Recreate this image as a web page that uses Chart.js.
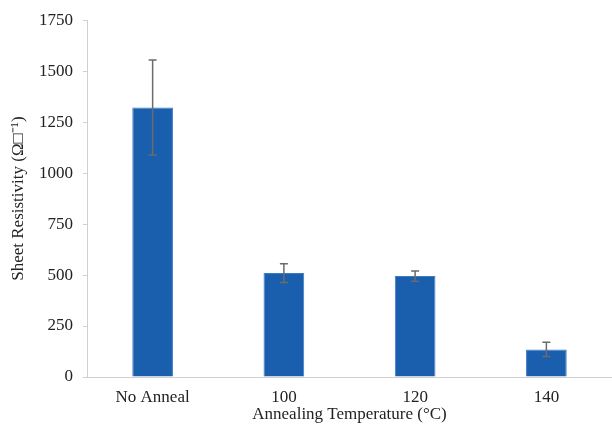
<!DOCTYPE html>
<html>
<head>
<meta charset="utf-8">
<script src="https://cdn.jsdelivr.net/npm/chart.js@4/dist/chart.umd.min.js"></script>
<style>
  html, body { margin: 0; padding: 0; background: #fff; }
  #wrap { width: 612px; height: 425px; }
</style>
</head>
<body>
<div id="wrap"><canvas id="c" width="612" height="425"></canvas></div>
<script>
// Sheet resistivity vs. annealing temperature
const categories = ['No Anneal', '100', '120', '140'];
const resistivity = [1322, 510, 495, 135];
const errorUp = [233, 46, 25, 35];
const errorDown = [233, 46, 25, 35];
const yTicks = [0, 250, 500, 750, 1000, 1250, 1500, 1750];

// Draws vertical error bars with caps on top of each bar
const errorBars = {
  id: 'errorBars',
  afterDatasetsDraw(chart) {
    const ctx = chart.ctx;
    const meta = chart.getDatasetMeta(0);
    const y = chart.scales.y;
    ctx.save();
    ctx.strokeStyle = '#6b6b6b';
    ctx.lineWidth = 1.5;
    meta.data.forEach((bar, i) => {
      const v = resistivity[i];
      const top = y.getPixelForValue(v + errorUp[i]);
      const bot = y.getPixelForValue(v - errorDown[i]);
      const x = bar.x;
      const cap = 4;
      ctx.beginPath();
      ctx.moveTo(x, top); ctx.lineTo(x, bot);
      ctx.moveTo(x - cap, top); ctx.lineTo(x + cap, top);
      ctx.moveTo(x - cap, bot); ctx.lineTo(x + cap, bot);
      ctx.stroke();
    });
    ctx.restore();
  }
};

const font = { family: '"Liberation Serif", "Times New Roman", serif', size: 17 };

new Chart(document.getElementById('c'), {
  type: 'bar',
  data: {
    labels: categories,
    datasets: [{
      data: resistivity,
      backgroundColor: '#1a5eae',
      borderColor: '#3b7cc6',
      borderWidth: 1,
      categoryPercentage: 1.0,
      barPercentage: 0.31
    }]
  },
  options: {
    responsive: false,
    animation: false,
    events: [],
    layout: { padding: { top: 19, right: 0, bottom: 0, left: 0 } },
    plugins: { legend: { display: false }, tooltip: { enabled: false } },
    scales: {
      x: {
        afterFit(s) { s.height = 48; },
        grid: { display: false },
        border: { display: true, color: '#d0d0d0', width: 1 },
        ticks: { color: '#222', font, padding: 2, maxRotation: 0 },
        title: {
          display: true,
          text: 'Annealing Temperature (°C)',
          color: '#222',
          font,
          padding: { top: 0, bottom: 0 }
        }
      },
      y: {
        min: 0,
        max: 1750,
        afterFit(s) { s.width = 87; },
        afterBuildTicks(s) { s.ticks = yTicks.map(v => ({ value: v })); },
        grid: { drawOnChartArea: false, drawTicks: true, tickLength: 4, color: '#d0d0d0' },
        border: { display: true, color: '#d0d0d0', width: 1 },
        ticks: { color: '#222', font, padding: 10, callback: v => String(v) },
        title: {
          display: true,
          text: 'Sheet Resistivity (Ω□⁻¹)',
          color: '#222',
          font,
          padding: { top: 8, bottom: 0 }
        }
      }
    }
  },
  plugins: [errorBars]
});
</script>
</body>
</html>
